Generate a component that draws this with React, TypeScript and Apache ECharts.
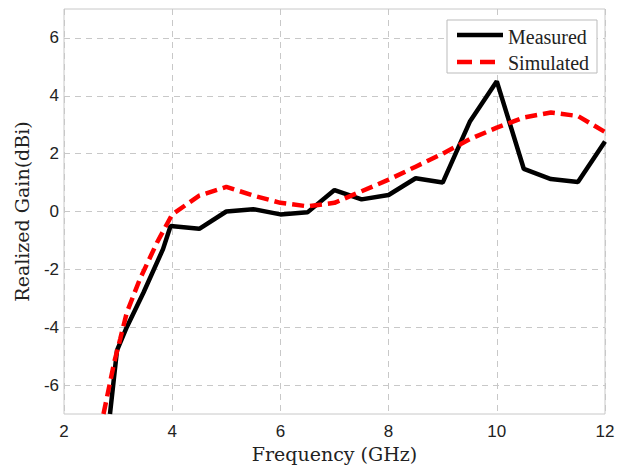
import React, { useEffect, useRef } from "react";
import * as echarts from "echarts";

const xTicks = [2, 4, 6, 8, 10, 12];
const yTicks = [-6, -4, -2, 0, 2, 4, 6];

const measuredX = [2.85, 2.98, 3.16, 3.47, 3.83, 3.97, 4.5, 5.0, 5.5, 6.0, 6.5, 7.0, 7.5, 8.0, 8.5, 9.0, 9.5, 10.0, 10.5, 11.0, 11.5, 12.0];
const measuredY = [-7, -4.8, -4.0, -2.8, -1.3, -0.5, -0.6, 0.0, 0.08, -0.1, -0.03, 0.74, 0.42, 0.57, 1.15, 1.0, 3.1, 4.5, 1.47, 1.12, 1.02, 2.42];

const simulatedX = [2.73, 2.93, 3.04, 3.16, 3.4, 3.72, 4.0, 4.5, 5.0, 5.5, 6.0, 6.5, 7.0, 7.5, 8.0, 8.5, 9.0, 9.5, 10.0, 10.5, 11.0, 11.5, 12.0];
const simulatedY = [-7, -5.2, -4.4, -3.5, -2.35, -1.07, -0.1, 0.55, 0.85, 0.55, 0.3, 0.18, 0.3, 0.7, 1.1, 1.55, 2.0, 2.5, 2.9, 3.25, 3.42, 3.3, 2.75];

const seriesNames = ["Measured", "Simulated"];

export default function App() {
  const ref = useRef<HTMLDivElement>(null);
  useEffect(() => {
    if (!ref.current) return;
    const chart = echarts.init(ref.current, null, { renderer: "svg" });
    const serif = "'Liberation Serif', 'DejaVu Serif', serif";
    const wideSerif = "'DejaVu Serif', serif";
    const sans = "'Liberation Sans', Arial, sans-serif";
    const red = "#ff0000";
    const dash = [12, 6];
    chart.setOption({
      animation: false,
      backgroundColor: "#fff",
      grid: {
        left: 64,
        right: 14,
        top: 9,
        bottom: 57,
        show: true,
        borderColor: "#c8c8c8",
        borderWidth: 1,
      },
      graphic: [
        {
          type: "rect",
          shape: { x: 447, y: 20, width: 150, height: 53 },
          style: { fill: "#fff", stroke: "#bbb", lineWidth: 1 },
          z: 10,
        },
        {
          type: "line",
          shape: { x1: 457, y1: 35, x2: 503, y2: 35 },
          style: { stroke: "#000", lineWidth: 4.5 },
          z: 11,
        },
        {
          type: "line",
          shape: { x1: 457, y1: 62, x2: 503, y2: 62 },
          style: { stroke: red, lineWidth: 4.5, lineDash: [15, 8] },
          z: 11,
        },
        {
          type: "text",
          x: 508,
          y: 37,
          style: { text: seriesNames[0], fontFamily: serif, fontSize: 20, fill: "#222", verticalAlign: "middle", align: "left" },
          z: 11,
        },
        {
          type: "text",
          x: 508,
          y: 63,
          style: { text: seriesNames[1], fontFamily: serif, fontSize: 20, fill: "#222", verticalAlign: "middle", align: "left" },
          z: 11,
        },
      ],
      xAxis: {
        type: "value",
        min: 2,
        max: 12,
        interval: 2,
        name: "Frequency (GHz)",
        nameLocation: "middle",
        nameGap: 26,
        nameTextStyle: { fontFamily: wideSerif, fontSize: 19, color: "#222" },
        axisLine: { show: false },
        axisTick: { show: false },
        axisLabel: { fontFamily: sans, fontSize: 17, color: "#222", margin: 9, customValues: xTicks },
        splitLine: { show: true, lineStyle: { color: "#c8c8c8", type: [6, 5] } },
      },
      yAxis: {
        type: "value",
        min: -7,
        max: 7,
        name: "Realized Gain(dBi)",
        nameLocation: "middle",
        nameGap: 33,
        nameTextStyle: { fontFamily: wideSerif, fontSize: 19, color: "#222" },
        axisLine: { show: false },
        axisTick: { show: false, customValues: yTicks },
        axisLabel: { fontFamily: sans, fontSize: 17, color: "#222", margin: 5, customValues: yTicks },
        splitLine: { show: true, lineStyle: { color: "#c8c8c8", type: [6, 5] } },
      },
      series: [
        {
          name: seriesNames[0],
          type: "line",
          symbol: "none",
          data: measuredX.map((x, i) => [x, measuredY[i]]),
          lineStyle: { color: "#000", width: 4.5 },
          itemStyle: { color: "#000" },
          clip: true,
          z: 2,
        },
        {
          name: seriesNames[1],
          type: "line",
          symbol: "none",
          data: simulatedX.map((x, i) => [x, simulatedY[i]]),
          lineStyle: { color: red, width: 4.5, type: dash },
          itemStyle: { color: red },
          clip: true,
          z: 3,
        },
      ],
    });
    return () => chart.dispose();
  }, []);
  return (
    <div
      ref={ref}
      style={{ position: "fixed", left: 0, top: 0, width: 619, height: 471, background: "#fff" }}
    />
  );
}
